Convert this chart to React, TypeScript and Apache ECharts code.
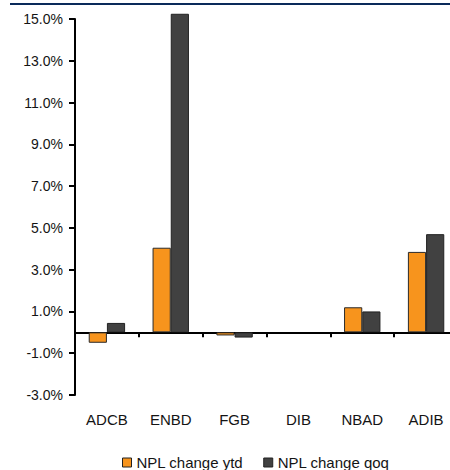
import React, { useEffect, useRef } from "react";
import * as echarts from "echarts";

// Banks and their NPL changes (percent)
const banks = ["ADCB", "ENBD", "FGB", "DIB", "NBAD", "ADIB"];
const nplChangeYtd: (number | null)[] = [-0.5, 4.05, -0.15, null, 1.2, 3.85];
const nplChangeQoq: (number | null)[] = [0.45, 15.25, -0.25, null, 1.0, 4.7];
const yTicks = [-3, -1, 1, 3, 5, 7, 9, 11, 13, 15];

const FONT = "'Liberation Sans', Arial, Helvetica, sans-serif";
const TEXT = "#141414";

export default function App() {
  const ref = useRef<HTMLDivElement>(null);

  useEffect(() => {
    if (!ref.current) return;
    const chart = echarts.init(ref.current, undefined, { renderer: "svg" });
    chart.setOption({
      animation: false,
      backgroundColor: "#ffffff",
      textStyle: { fontFamily: FONT },
      graphic: [
        {
          type: "line",
          shape: { x1: 10, y1: 4, x2: 450, y2: 4 },
          style: { stroke: "#0a2a5a", lineWidth: 2 },
        },
      ],
      grid: {
        left: 75,
        right: -8,
        top: 19,
        bottom: 75,
        containLabel: false,
        outerBoundsMode: "none",
      },
      legend: {
        left: 117,
        top: 450,
        itemWidth: 9,
        itemHeight: 9,
        itemGap: 20,
        icon: "rect",
        textStyle: { fontFamily: FONT, fontSize: 15, color: TEXT },
        itemStyle: { borderColor: "#222", borderWidth: 1 },
        data: ["NPL change ytd", "NPL change qoq"],
      },
      xAxis: {
        type: "category",
        data: banks,
        axisLine: { onZero: true, lineStyle: { color: "#000", width: 2 } },
        axisTick: { show: true, length: 5, lineStyle: { color: "#000", width: 2 } },
        axisLabel: {
          margin: 17,
          fontFamily: FONT,
          fontSize: 15,
          color: TEXT,
        },
        splitLine: { show: false },
      },
      yAxis: {
        type: "value",
        min: -3,
        max: 15,
        interval: 1,
        axisLine: { show: true, lineStyle: { color: "#000", width: 2 } },
        axisTick: {
          show: true,
          length: 6,
          customValues: yTicks,
          lineStyle: { color: "#000", width: 2 },
        },
        axisLabel: {
          margin: 12,
          customValues: yTicks,
          fontFamily: FONT,
          fontSize: 14,
          color: TEXT,
          formatter: (v: number) => v.toFixed(1) + "%",
        },
        splitLine: { show: false },
      },
      series: [
        {
          name: "NPL change ytd",
          type: "bar",
          data: nplChangeYtd,
          barGap: "0%",
          barCategoryGap: "43%",
          clip: false,
          itemStyle: { color: "#f7941d", borderColor: "#2a2a2a", borderWidth: 1 },
        },
        {
          name: "NPL change qoq",
          type: "bar",
          data: nplChangeQoq,
          barGap: "0%",
          barCategoryGap: "43%",
          clip: false,
          itemStyle: { color: "#414141", borderColor: "#222", borderWidth: 1 },
        },
      ],
    });
    return () => chart.dispose();
  }, []);

  return (
    <div
      ref={ref}
      style={{ position: "absolute", left: 0, top: 0, width: 450, height: 470 }}
    />
  );
}
